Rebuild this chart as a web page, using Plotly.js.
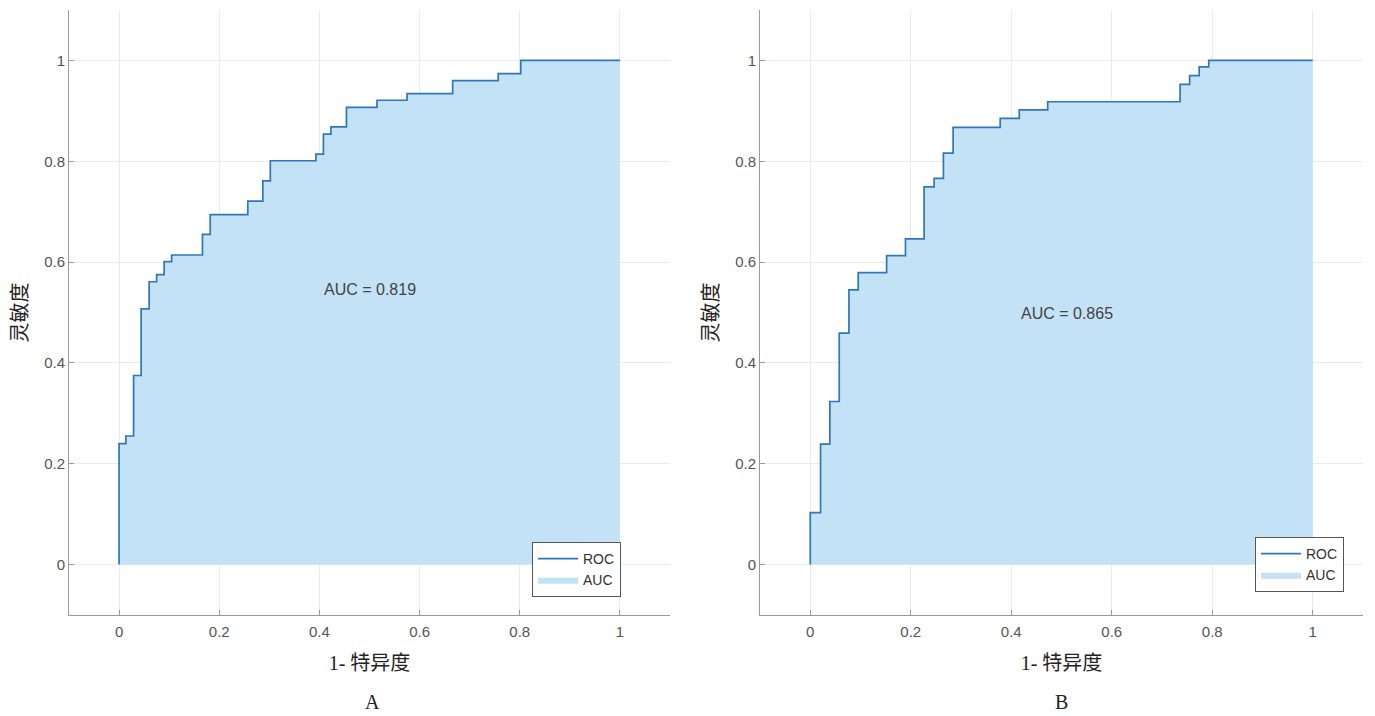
<!DOCTYPE html>
<html>
<head>
<meta charset="utf-8">
<script src="https://cdn.plot.ly/plotly-3.0.1.min.js"></script>
<style>html,body{margin:0;padding:0;background:#fff;}#chart{width:1375px;height:716px;}</style>
</head>
<body>
<div id="chart"></div>
<script>
// Panel A ROC curve (1 - specificity, sensitivity)
const fprA = [0, 0, 0.0136, 0.029, 0.044, 0.060, 0.075, 0.090, 0.105, 0.1665, 0.182, 0.257, 0.287, 0.302, 0.393, 0.408, 0.423, 0.454, 0.515, 0.575, 0.666, 0.757, 0.802, 1];
const tprA = [0, 0.240, 0.255, 0.375, 0.507, 0.561, 0.575, 0.601, 0.614, 0.655, 0.694, 0.721, 0.761, 0.801, 0.814, 0.854, 0.868, 0.907, 0.921, 0.934, 0.960, 0.974, 1.0, 1.0];
// Panel B ROC curve
const fprB = [0, 0, 0.0205, 0.039, 0.0577, 0.077, 0.0954, 0.152, 0.1895, 0.2266, 0.2465, 0.265, 0.2843, 0.378, 0.416, 0.4725, 0.736, 0.755, 0.774, 0.793, 1];
const tprB = [0, 0.103, 0.239, 0.3235, 0.459, 0.545, 0.579, 0.613, 0.646, 0.749, 0.766, 0.816, 0.867, 0.885, 0.902, 0.918, 0.9526, 0.970, 0.987, 1.0, 1.0];

const aucLabels = ["AUC = 0.819", "AUC = 0.865"];
const panelLabels = ["A", "B"];
const xTitle = "1- 特异度";
const yTitle = "灵敏度";
const tickVals = [0, 0.2, 0.4, 0.6, 0.8, 1];
const tickText = ["0", "0.2", "0.4", "0.6", "0.8", "1"];

const lineColor = "#2e77bd";
const fillColor = "#c3e2f5";
const tickFont = {family: "Liberation Sans, Arial, sans-serif", size: 15, color: "#555"};
const titleFont = {family: "Liberation Serif, Times New Roman, Noto Sans CJK SC, serif", size: 20, color: "#222"};

function traces(x, y, xa, ya, lg) {
  return [
    {x: x, y: y, xaxis: xa, yaxis: ya, type: "scatter", mode: "lines", name: "AUC",
     line: {shape: "hv", width: 0, color: fillColor}, fill: "tozeroy", fillcolor: fillColor,
     legend: lg, legendrank: 2, hoverinfo: "skip"},
    {x: x, y: y, xaxis: xa, yaxis: ya, type: "scatter", mode: "lines", name: "ROC",
     line: {shape: "hv", width: 1.7, color: lineColor}, legend: lg, legendrank: 1}
  ];
}

const data = [].concat(
  traces(fprA, tprA, "x", "y", "legend"),
  traces(fprB, tprB, "x2", "y2", "legend2")
);

function xaxis(domain, anchor) {
  return {domain: domain, anchor: anchor, range: [-0.1, 1.1], tickvals: tickVals, ticktext: tickText,
    showgrid: true, gridcolor: "#ebebeb", zeroline: false, showline: true, linecolor: "#9a9a9a",
    linewidth: 1, ticks: "inside", ticklen: 5, tickcolor: "#9a9a9a", tickfont: tickFont,
    ticklabelstandoff: 3,
    title: {text: xTitle, font: titleFont, standoff: 16}};
}
function yaxis(domain, anchor) {
  return {domain: domain, anchor: anchor, range: [-0.1, 1.1], tickvals: tickVals, ticktext: tickText,
    showgrid: true, gridcolor: "#ebebeb", zeroline: false, showline: true, linecolor: "#9a9a9a",
    linewidth: 1, ticks: "inside", ticklen: 5, tickcolor: "#9a9a9a", tickfont: tickFont,
    title: {text: yTitle, font: titleFont, standoff: 11}};
}

const legendStyle = {bgcolor: "#ffffff", bordercolor: "#555", borderwidth: 1,
  font: {family: "Liberation Sans, Arial, sans-serif", size: 14, color: "#333"},
  xanchor: "left", yanchor: "top", traceorder: "normal", itemwidth: 40};

const layout = {
  width: 1375, height: 716,
  margin: {l: 0, r: 0, t: 0, b: 0},
  paper_bgcolor: "#fff", plot_bgcolor: "#fff",
  xaxis: xaxis([69/1375, 670/1375], "y"),
  yaxis: yaxis([1 - 615/716, 1 - 10/716], "x"),
  xaxis2: xaxis([760/1375, 1363/1375], "y2"),
  yaxis2: yaxis([1 - 615/716, 1 - 10/716], "x2"),
  legend: Object.assign({x: 532/1375, y: 1 - 542/716}, legendStyle),
  legend2: Object.assign({x: 1255/1375, y: 1 - 537/716}, legendStyle),
  showlegend: true,
  annotations: [
    {xref: "x", yref: "y", x: 0.5, y: 0.545, text: aucLabels[0], showarrow: false,
     xanchor: "center", yanchor: "middle",
     font: {family: "Liberation Sans, Arial, sans-serif", size: 16, color: "#444"}},
    {xref: "x2", yref: "y2", x: 0.511, y: 0.498, text: aucLabels[1], showarrow: false,
     xanchor: "center", yanchor: "middle",
     font: {family: "Liberation Sans, Arial, sans-serif", size: 16, color: "#444"}},
    {xref: "paper", yref: "paper", x: 372/1375, y: 1 - 702/716, text: panelLabels[0], showarrow: false,
     xanchor: "center", yanchor: "middle",
     font: {family: "Liberation Serif, Times New Roman, serif", size: 20, color: "#222"}},
    {xref: "paper", yref: "paper", x: 1061/1375, y: 1 - 702/716, text: panelLabels[1], showarrow: false,
     xanchor: "center", yanchor: "middle",
     font: {family: "Liberation Serif, Times New Roman, serif", size: 20, color: "#222"}}
  ]
};

Plotly.newPlot("chart", data, layout, {displayModeBar: false, staticPlot: true});
</script>
</body>
</html>
